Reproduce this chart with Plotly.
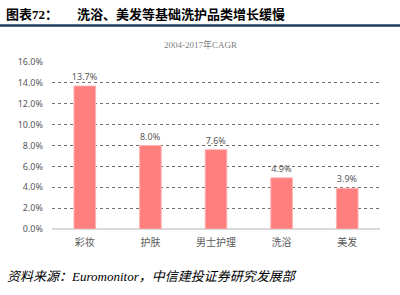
import plotly.graph_objects as go

categories = ["彩妆", "护肤", "男士护理", "洗浴", "美发"]
values = [13.7, 8.0, 7.6, 4.9, 3.9]
tick_vals = [0, 2, 4, 6, 8, 10, 12, 14, 16]
tick_text = [f"{v:.1f}%" for v in tick_vals]

fig = go.Figure()
fig.add_trace(go.Bar(
    x=categories, y=values,
    marker=dict(color="#FF7F7F", line=dict(color="#FFB3B3", width=1)),
    width=0.33,
    text=[f"{v:.1f}%" for v in values],
    textposition="outside",
    constraintext="none",
    textfont=dict(size=9, color="#595959", family="Noto Sans"),
    cliponaxis=False,
))

fig.update_layout(
    width=400, height=295,
    margin=dict(l=52, r=20, t=62, b=66),
    paper_bgcolor="white", plot_bgcolor="white",
    showlegend=False,
    font=dict(family="Noto Sans CJK SC"),
    xaxis=dict(
        showgrid=False, showline=False, ticks="",
        tickfont=dict(size=10, color="#595959", family="Noto Sans CJK SC"),
        ticklabelstandoff=6,
    ),
    yaxis=dict(
        range=[0, 16], tickvals=tick_vals, ticktext=tick_text,
        showgrid=True, gridcolor="#6e6e6e", griddash="dot", gridwidth=1,
        zeroline=True, zerolinecolor="#d9d9d9", zerolinewidth=1.5,
        showline=False, ticks="",
        tickfont=dict(size=9, color="#595959", family="Noto Sans"),
        ticklabelstandoff=8,
    ),
    shapes=[dict(type="line", xref="paper", yref="paper",
                 x0=-52/328, x1=375/328, y0=(295-66-25.5)/167, y1=(295-66-25.5)/167,
                 line=dict(color="#1F3A5F", width=2.5))],
    annotations=[
        dict(text="<b>图表</b><b><span style='font-family:Liberation Serif'>72</span>：</b>",
             xref="paper", yref="paper", x=-48/328, y=(295-66-13)/167, xanchor="left", yanchor="middle",
             showarrow=False, font=dict(size=13, color="#000000", family="Noto Sans CJK SC")),
        dict(text="<b>洗浴、美发等基础洗护品类增长缓慢</b>",
             xref="paper", yref="paper", x=(75-52)/328, y=(295-66-13)/167, xanchor="left", yanchor="middle",
             showarrow=False, font=dict(size=13, color="#000000", family="Noto Sans CJK SC")),
        dict(text="2004-2017年CAGR",
             xref="paper", yref="paper", x=(200-52)/328, y=(295-66-44)/167, xanchor="center", yanchor="middle",
             showarrow=False, font=dict(size=9, color="#7f7f7f", family="Liberation Serif, Noto Sans CJK SC")),
        dict(text="<i>资料来源：Euromonitor，中信建投证券研究发展部</i>",
             xref="paper", yref="paper", x=-47/328, y=(295-66-276)/167, xanchor="left", yanchor="middle",
             showarrow=False, font=dict(size=13, color="#000000", family="Liberation Serif, Noto Sans CJK SC")),
    ],
)

fig.write_html("out.html")
